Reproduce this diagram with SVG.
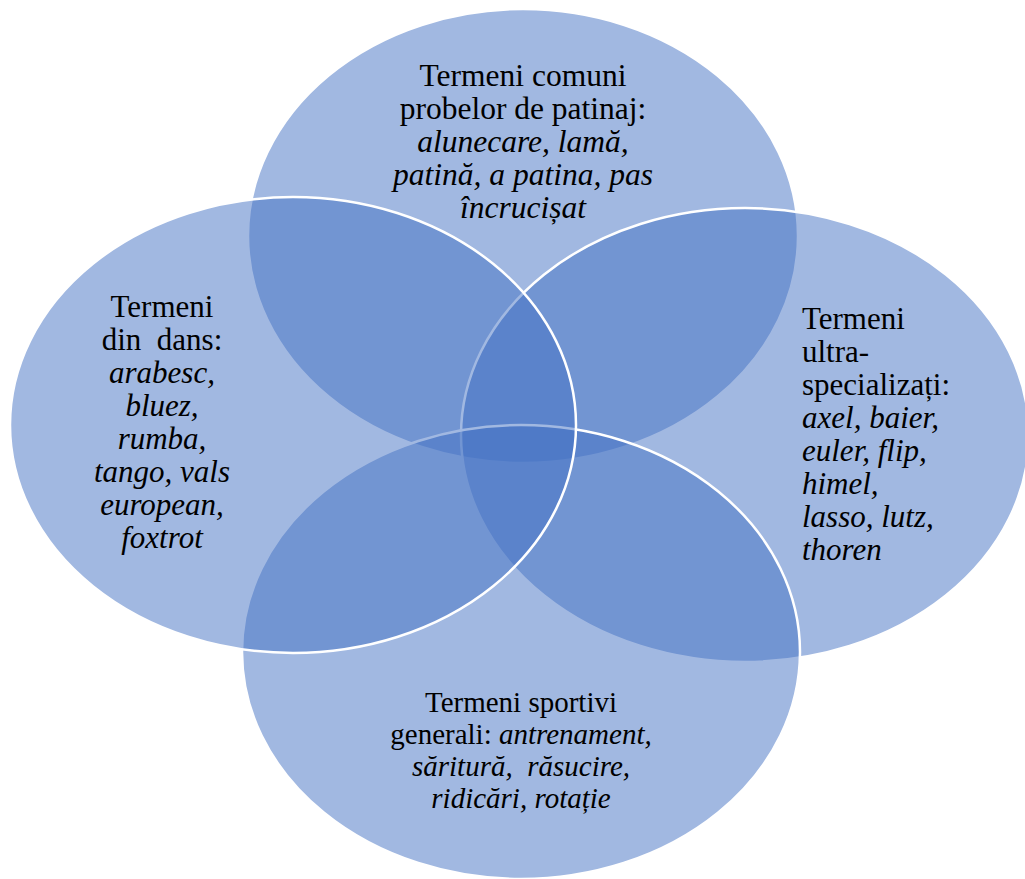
<svg xmlns="http://www.w3.org/2000/svg" width="1025" height="879" viewBox="0 0 1025 879">
<style>
.c{fill:#4472C4;fill-opacity:0.5;stroke:#FFFFFF;stroke-width:2.5}
text{font-family:"Liberation Serif","Times New Roman","DejaVu Serif",serif;fill:#000000;white-space:pre}
.i{font-style:italic}
.m{text-anchor:middle}
.t{font-size:31.5px}
.s{font-size:31px}
.b{font-size:29px}
</style>
<rect width="1025" height="879" fill="#FFFFFF"/>
<g id="top"><ellipse class="c" cx="523" cy="236" rx="275" ry="227"/></g>
<g id="right"><ellipse class="c" cx="745" cy="435" rx="284" ry="227"/></g>
<g id="bottom"><ellipse class="c" cx="521" cy="652" rx="279" ry="227"/></g>
<g id="left"><ellipse class="c" cx="293" cy="425" rx="283" ry="228"/></g>
<g id="connectors"></g>
<g id="top-text">
<text class="m t" x="523" y="86">Termeni comuni</text>
<text class="m t" x="523" y="119">probelor de patinaj:</text>
<text class="m i t" x="523" y="152">alunecare, lamă,</text>
<text class="m i t" x="523" y="185">patină, a patina, pas</text>
<text class="m i t" x="523" y="218">încrucișat</text>
</g>
<g id="left-text">
<text class="m s" x="162" y="317">Termeni</text>
<text class="m s" x="162" y="350">din  dans:</text>
<text class="m i s" x="162" y="383">arabesc,</text>
<text class="m i s" x="162" y="416">bluez,</text>
<text class="m i s" x="162" y="449">rumba,</text>
<text class="m i s" x="162" y="482">tango, vals</text>
<text class="m i s" x="162" y="515">european,</text>
<text class="m i s" x="162" y="548">foxtrot</text>
</g>
<g id="right-text">
<text class="s" x="802" y="329">Termeni</text>
<text class="s" x="802" y="362">ultra-</text>
<text class="s" x="802" y="395">specializați:</text>
<text class="i s" x="802" y="428">axel, baier,</text>
<text class="i s" x="802" y="461">euler, flip,</text>
<text class="i s" x="802" y="494">himel,</text>
<text class="i s" x="802" y="527">lasso, lutz,</text>
<text class="i s" x="802" y="560">thoren</text>
</g>
<g id="bottom-text">
<text class="m b" x="521" y="712">Termeni sportivi</text>
<text class="m b" x="521" y="744">generali: <tspan class="i">antrenament,</tspan></text>
<text class="m i b" x="521" y="776">săritură,  răsucire,</text>
<text class="m i b" x="521" y="808">ridicări, rotație</text>
</g>
</svg>
